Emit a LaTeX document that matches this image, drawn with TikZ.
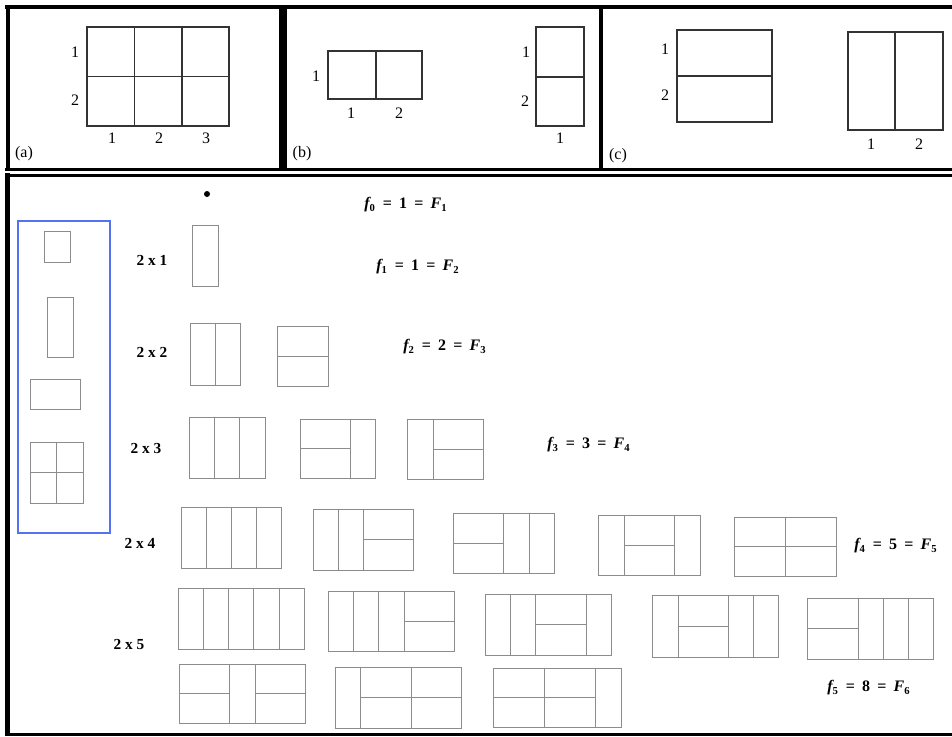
\documentclass[tikz,border=0pt]{standalone}
\usepackage{fontspec}
\setmainfont{Liberation Serif}
\definecolor{boxblue}{RGB}{85,115,240}
\tikzset{
  tile/.style={draw=black!45, line width=0.75pt},
  grid/.style={draw=black!80, line width=0.8pt},
  lbl/.style={font=\fontsize{12}{14}\selectfont, inner sep=0pt},
  rowlbl/.style={font=\fontsize{11.5}{13}\selectfont\bfseries, inner sep=0pt},
  fib/.style={font=\fontsize{12}{14}\selectfont\bfseries, inner sep=0pt},
  heavy/.style={draw=black, line width=#1},
}
\newcommand{\domV}[4]{\draw[tile] (#1,#3) rectangle (#2,#4);}
\newcommand{\domH}[4]{\draw[tile] (#1,#3) rectangle (#2,#4); \draw[tile] (#1,{(#3+#4)/2}) -- (#2,{(#3+#4)/2});}
\newcommand{\fibtxt}[3]{{\itshape f}\textsubscript{#1}\hspace{0.45em}=\hspace{0.45em}#2\hspace{0.45em}=\hspace{0.45em}{\itshape F}\textsubscript{#3}}
\begin{document}
\begin{tikzpicture}[x=0.75pt,y=-0.75pt]
\useasboundingbox (0,0) rectangle (952,736);
% ---------- frames ----------
\draw[heavy=3pt] (5,7) -- (952,7);
\draw[heavy=3.5pt] (8,5) -- (8,170);
\draw[heavy=6pt] (282.5,5) -- (282.5,170);
\draw[heavy=3pt] (601,9) -- (601,170);
\draw[heavy=2.3pt] (5,169.5) -- (952,169.5);
\draw[heavy=2.8pt] (5,175.5) -- (952,175.5);
\draw[heavy=3.5pt] (7.5,173) -- (7.5,736);
\draw[heavy=2.3pt] (5,734.5) -- (952,734.5);
% ---------- panel (a) ----------
\draw[grid] (87,27) rectangle (229,126);
\draw[grid] (87,76.5) -- (229,76.5);
\draw[grid] (134.5,27) -- (134.5,126);
\draw[grid] (182,27) -- (182,126);
\node[lbl] (a1) at (75,52) {1};
\node[lbl] (a2) at (75,100) {2};
\node[lbl] (ac1) at (112,138) {1};
\node[lbl] (ac2) at (159,138) {2};
\node[lbl] (ac3) at (206,138) {3};
\node[lbl] (pa) at (24,154) {(a)};
% ---------- panel (b) ----------
\draw[grid] (328,51) rectangle (422,99);
\draw[grid] (376,51) -- (376,99);
\node[lbl] (b1) at (316,76) {1};
\node[lbl] (bc1) at (351,113) {1};
\node[lbl] (bc2) at (399,113) {2};
\draw[grid] (536,27) rectangle (584,126);
\draw[grid] (536,77) -- (584,77);
\node[lbl] (b2r1) at (526,52) {1};
\node[lbl] (b2r2) at (525,101) {2};
\node[lbl] (b2c1) at (560,138) {1};
\node[lbl] (pb) at (302,154) {(b)};
% ---------- panel (c) ----------
\draw[grid] (677,30) rectangle (772,122);
\draw[grid] (677,76) -- (772,76);
\node[lbl] (c1) at (665,49) {1};
\node[lbl] (c2) at (665,95) {2};
\draw[grid] (848,32) rectangle (943,130);
\draw[grid] (895,32) -- (895,130);
\node[lbl] (cc1) at (871,144) {1};
\node[lbl] (cc2) at (919,144) {2};
\node[lbl] (pc) at (618,156) {(c)};
% ---------- legend box ----------
\draw[boxblue, line width=1.3pt] (18,221) rectangle (110,533);
\draw[tile] (44,231) rectangle (70,262);
\draw[tile] (47.5,297) rectangle (73.5,357);
\draw[tile] (30,379) rectangle (80,409);
\draw[tile] (30,442) rectangle (83,503);
\draw[tile] (56,442) -- (56,503);
\draw[tile] (30,472) -- (83,472);
% ---------- row labels ----------
\fill (207,194) circle (3);
\node[rowlbl] (r1) at (152,260) {2 x 1};
\node[rowlbl] (r2) at (152,352) {2 x 2};
\node[rowlbl] (r3) at (146,448) {2 x 3};
\node[rowlbl] (r4) at (140,543) {2 x 4};
\node[rowlbl] (r5) at (129,644) {2 x 5};
% ---------- formulas ----------
\node[fib, anchor=west] (f0) at (364,205) {\fibtxt{0}{1}{1}};
\node[fib, anchor=west] (f1) at (376,267) {\fibtxt{1}{1}{2}};
\node[fib, anchor=west] (f2) at (403,347) {\fibtxt{2}{2}{3}};
\node[fib, anchor=west] (f3) at (547,445) {\fibtxt{3}{3}{4}};
\node[fib, anchor=west] (f4) at (854,546) {\fibtxt{4}{5}{5}};
\node[fib, anchor=west] (f5) at (827,688) {\fibtxt{5}{8}{6}};
% ---------- 2x1 ----------
\domV{192}{218}{225}{286}
% ---------- 2x2 ----------
\domV{190}{215}{323}{385}\domV{215}{240}{323}{385}
\domH{277}{328}{326}{386}
% ---------- 2x3 ----------
\domV{189}{214}{417}{478}\domV{214}{239}{417}{478}\domV{239}{265}{417}{478}
\domH{300}{350}{419}{478}\domV{350}{375}{419}{478}
\domV{407}{433}{419}{479}\domH{433}{483}{419}{479}
% ---------- 2x4 ----------
\domV{181}{206}{507}{568}\domV{206}{231}{507}{568}\domV{231}{256}{507}{568}\domV{256}{281}{507}{568}
\domV{313}{338}{509}{570}\domV{338}{363}{509}{570}\domH{363}{413}{509}{570}
\domH{453}{503}{513}{573}\domV{503}{529}{513}{573}\domV{529}{554}{513}{573}
\domV{598}{624}{515}{575}\domH{624}{674}{515}{575}\domV{674}{700}{515}{575}
\domH{734}{785}{517}{576}\domH{785}{836}{517}{576}
% ---------- 2x5 ----------
\domV{178}{203}{588}{649}\domV{203}{228}{588}{649}\domV{228}{253}{588}{649}\domV{253}{279}{588}{649}\domV{279}{304}{588}{649}
\domV{328}{353}{591}{651}\domV{353}{378}{591}{651}\domV{378}{404}{591}{651}\domH{404}{454}{591}{651}
\domV{485}{510}{594}{655}\domV{510}{535}{594}{655}\domH{535}{586}{594}{655}\domV{586}{611}{594}{655}
\domV{652}{678}{595}{657}\domH{678}{728}{595}{657}\domV{728}{753}{595}{657}\domV{753}{778}{595}{657}
\domH{807}{858}{598}{659}\domV{858}{883}{598}{659}\domV{883}{908}{598}{659}\domV{908}{933}{598}{659}
\domH{179}{229}{664}{723}\domV{229}{255}{664}{723}\domH{255}{305}{664}{723}
\domV{335}{360}{667}{728}\domH{360}{411}{667}{728}\domH{411}{461}{667}{728}
\domH{493}{544}{668}{727}\domH{544}{595}{668}{727}\domV{595}{621}{668}{727}
\end{tikzpicture}
\end{document}
